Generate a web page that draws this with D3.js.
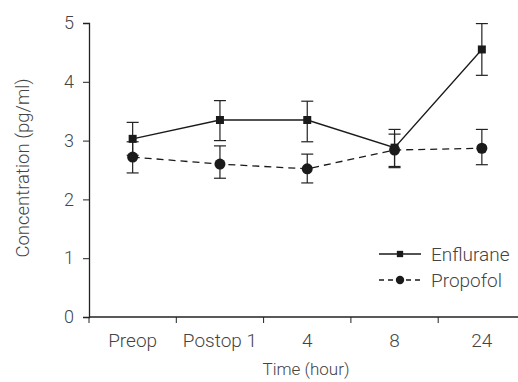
<!DOCTYPE html>
<html>
<head>
<meta charset="utf-8">
<script src="https://cdn.jsdelivr.net/npm/d3@7"></script>
<style>
  body { margin: 0; background: #fff; }
  text { font-family: Roboto, "Noto Sans", sans-serif; font-weight: 300; fill: #444; }
</style>
</head>
<body>
<svg id="chart" width="518" height="382"></svg>
<script>
// categories and values
const times = ["Preop", "Postop 1", "4", "8", "24"];
const enflurane = [3.03, 3.35, 3.35, 2.88, 4.55];
const enfluraneLow = [2.75, 3.00, 2.98, 2.56, 4.11];
const enfluraneHigh = [3.31, 3.68, 3.67, 3.19, 4.99];
const propofol = [2.72, 2.60, 2.52, 2.84, 2.87];
const propofolLow = [2.45, 2.36, 2.28, 2.54, 2.59];
const propofolHigh = [2.98, 2.91, 2.77, 3.11, 3.19];
const yTicks = [0, 1, 2, 3, 4, 5];

let margin = {top: 23, right: 0, bottom: 65, left: 89},
    width = 518 - margin.left,
    height = 382 - margin.top - margin.bottom;

let svg = d3.select("#chart");
let g = svg.append("g")
    .attr("transform", "translate(" + margin.left + "," + margin.top + ")");

let xScale = d3.scaleBand()
    .domain(times)
    .range([0, 436.5]);

let yScale = d3.scaleLinear()
    .domain([0, 5])
    .range([height, 0]);

//y axis
let yAxis = g.append("g")
    .call(d3.axisLeft(yScale).tickValues(yTicks).tickFormat(d3.format("d")).tickSize(6).tickPadding(9));
yAxis.select(".domain").attr("stroke", "#222").attr("stroke-width", 1.3);
yAxis.selectAll(".tick line").attr("stroke", "#222");
yAxis.selectAll("text").style("font-size", "18px").style("font-family", null).attr("fill", "#444");

//x axis, ticks between categories
let xAxis = g.append("g")
    .attr("transform", "translate(0," + height + ")");
xAxis.append("line")
    .attr("x1", 0).attr("x2", width)
    .attr("stroke", "#222").attr("stroke-width", 1.3);
xAxis.selectAll(".xtick")
    .data(times)
    .enter().append("line")
    .attr("x1", d => xScale(d)).attr("x2", d => xScale(d))
    .attr("y1", 0).attr("y2", 6)
    .attr("stroke", "#222");
xAxis.selectAll(".xlabel")
    .data(times)
    .enter().append("text")
    .attr("x", d => xScale(d) + xScale.bandwidth() / 2)
    .attr("y", 30)
    .attr("text-anchor", "middle")
    .style("font-size", "19px")
    .text(d => d);

//axis titles
g.append("text")
    .attr("x", 217)
    .attr("y", height + 58)
    .attr("text-anchor", "middle")
    .style("font-size", "17px")
    .text("Time (hour)");

g.append("text")
    .attr("transform", "rotate(-90)")
    .attr("x", -145)
    .attr("y", -60)
    .attr("text-anchor", "middle")
    .style("font-size", "18.5px")
    .text("Concentration (pg/ml)");

let cx = d => xScale(d) + xScale.bandwidth() / 2;

let series = [
    {name: "Enflurane", values: enflurane, low: enfluraneLow, high: enfluraneHigh, dash: null, shape: "square"},
    {name: "Propofol", values: propofol, low: propofolLow, high: propofolHigh, dash: "7,5", shape: "circle"}
];

series.forEach(s => {
    let line = d3.line()
        .x((d, i) => cx(times[i]))
        .y(d => yScale(d));

    g.append("path")
        .datum(s.values)
        .attr("d", line)
        .attr("fill", "none")
        .attr("stroke", "#1a1a1a")
        .attr("stroke-width", 1.3)
        .attr("stroke-dasharray", s.dash);

    //error bars
    let eb = g.append("g").selectAll("g")
        .data(times)
        .enter().append("g");
    eb.append("line")
        .attr("x1", d => cx(d)).attr("x2", d => cx(d))
        .attr("y1", (d, i) => yScale(s.low[i]))
        .attr("y2", (d, i) => yScale(s.high[i]))
        .attr("stroke", "#222").attr("stroke-width", 1.2);
    [s.low, s.high].forEach(arr => {
        eb.append("line")
            .attr("x1", d => cx(d) - 6).attr("x2", d => cx(d) + 6)
            .attr("y1", (d, i) => yScale(arr[i]))
            .attr("y2", (d, i) => yScale(arr[i]))
            .attr("stroke", "#222").attr("stroke-width", 1.2);
    });
});

series.forEach(s => {
    g.append("g").selectAll("path")
        .data(s.values)
        .enter().append("path")
        .attr("transform", (d, i) => "translate(" + cx(times[i]) + "," + yScale(d) + ")")
        .attr("d", d3.symbol().type(s.shape == "square" ? d3.symbolSquare : d3.symbolCircle).size(s.shape == "square" ? 64 : 95))
        .attr("fill", "#1a1a1a");
});

//legend
let legend = svg.append("g");
series.forEach((s, i) => {
    let y = 254 + i * 26;
    legend.append("line")
        .attr("x1", 379).attr("x2", 421)
        .attr("y1", y).attr("y2", y)
        .attr("stroke", "#1a1a1a").attr("stroke-width", 1.3)
        .attr("stroke-dasharray", s.dash ? "5,4" : null);
    legend.append("path")
        .attr("transform", "translate(400," + y + ")")
        .attr("d", d3.symbol().type(s.shape == "square" ? d3.symbolSquare : d3.symbolCircle).size(s.shape == "square" ? 40 : 55))
        .attr("fill", "#1a1a1a");
    legend.append("text")
        .attr("x", 431)
        .attr("y", y + 7)
        .style("font-size", "19px")
        .text(s.name);
});
</script>
</body>
</html>
